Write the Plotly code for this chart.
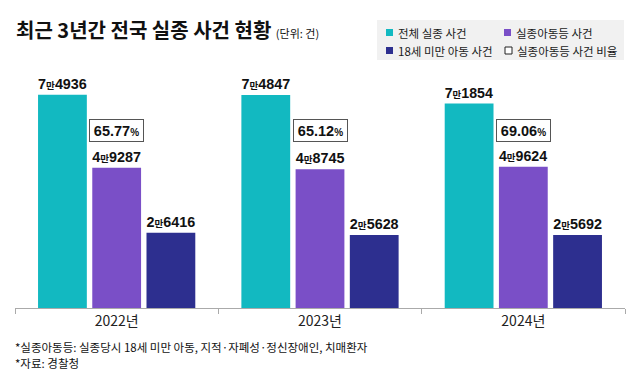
import plotly.graph_objects as go

# ---- data ----
years = ["2022년", "2023년", "2024년"]
total_cases = [74936, 74847, 71854]          # 전체 실종 사건
missing_kids_etc = [49287, 48745, 49624]     # 실종아동등 사건
under18_cases = [26416, 25628, 25692]        # 18세 미만 아동 사건
kids_ratio = [65.77, 65.12, 69.06]           # 실종아동등 사건 비율 (%)

series_names = ["전체 실종 사건", "실종아동등 사건", "18세 미만 아동 사건", "실종아동등 사건 비율"]
colors = ["#12b9c1", "#7a4fc7", "#2d2f8f"]

W, H = 640, 390
ML, MR, MT, MB = 15, 15, 52, 82
PW, PH = W - ML - MR, H - MT - MB

NUM_FONT = "Liberation Sans, Arial, Noto Sans CJK KR, sans-serif"
KR_FONT = "Noto Sans CJK KR, sans-serif"


def man_label(v):
    return f"{v // 10000}<span style='font-size:10px'>만</span>{v % 10000:04d}"


def px(x):
    return (x - ML) / PW


def py(y):
    return (H - MB - y) / PH


fig = go.Figure()
for name, vals, col in zip(series_names[:3], [total_cases, missing_kids_etc, under18_cases], colors):
    fig.add_trace(go.Bar(
        x=years, y=vals, name=name, marker=dict(color=col, line=dict(width=0)),
        text=[man_label(v) for v in vals], textposition="outside",
        textfont=dict(family=NUM_FONT, size=15, color="#111111", weight="bold"),
        cliponaxis=False, showlegend=False,
    ))

annotations = []
# ratio boxes
for yr, r in zip(years, kids_ratio):
    annotations.append(dict(
        x=yr, y=62300, xref="x", yref="y", showarrow=False,
        text=f"{r:.2f}<span style='font-size:10px'>%</span>",
        font=dict(family=NUM_FONT, size=14.5, color="#111111", weight="bold"),
        bordercolor="#555555", borderwidth=1, borderpad=1, bgcolor="white",
        width=51, height=19, align="center", valign="middle",
        xanchor="center", yanchor="middle",
    ))

# title
annotations.append(dict(
    x=px(14), y=py(29), xref="paper", yref="paper", showarrow=False, xanchor="left", yanchor="middle",
    text="<b>최근 3년간 전국 실종 사건 현황</b> <span style='font-size:11px'>(단위: 건)</span>",
    font=dict(family=KR_FONT, size=20, color="#111111"),
))

# footnotes
for text, yy in [("*실종아동등: 실종당시 18세 미만 아동, 지적·자폐성·정신장애인, 치매환자", 347),
                 ("*자료: 경찰청", 363)]:
    annotations.append(dict(
        x=px(13), y=py(yy), xref="paper", yref="paper", showarrow=False, xanchor="left", yanchor="middle",
        text=text, font=dict(family=KR_FONT, size=11.5, color="#111111"),
    ))

shapes = [dict(type="rect", xref="paper", yref="paper", x0=px(377), x1=px(624), y0=py(60), y1=py(20),
               fillcolor="#f1f1f1", line=dict(width=0), layer="below")]

legend_pos = [(389.5, 32.5), (507.5, 32.5), (389.5, 50.5), (508.5, 50.5)]
legend_fill = colors + ["white"]
for name, (lx, ly), fc in zip(series_names, legend_pos, legend_fill):
    shapes.append(dict(type="rect", xref="paper", yref="paper",
                       x0=px(lx - 3.5), x1=px(lx + 3.5), y0=py(ly + 3.5), y1=py(ly - 3.5),
                       fillcolor=fc, line=dict(width=1 if fc == "white" else 0, color="#222222")))
    annotations.append(dict(
        x=px(lx + 6), y=py(ly), xref="paper", yref="paper", showarrow=False, xanchor="left", yanchor="middle",
        text=name, font=dict(family=KR_FONT, size=11.5, color="#1a1a1a"),
    ))

fig.update_layout(
    width=W, height=H, margin=dict(l=ML, r=MR, t=MT, b=MB, pad=0),
    paper_bgcolor="white", plot_bgcolor="white",
    barmode="group", bargap=0.2, bargroupgap=0.1,
    xaxis=dict(showline=True, linecolor="#aaaaaa", linewidth=1, ticks="outside", tickson="boundaries",
               ticklen=5, tickcolor="#aaaaaa", showgrid=False, zeroline=False,
               tickfont=dict(family=KR_FONT, size=14, color="#222222"), fixedrange=True),
    yaxis=dict(visible=False, range=[0, 90000], fixedrange=True),
    annotations=annotations, shapes=shapes, showlegend=False,
    font=dict(family=KR_FONT),
)

fig.write_html("out.html", config={"displayModeBar": False},
               post_script="document.body.style.margin='0';")
